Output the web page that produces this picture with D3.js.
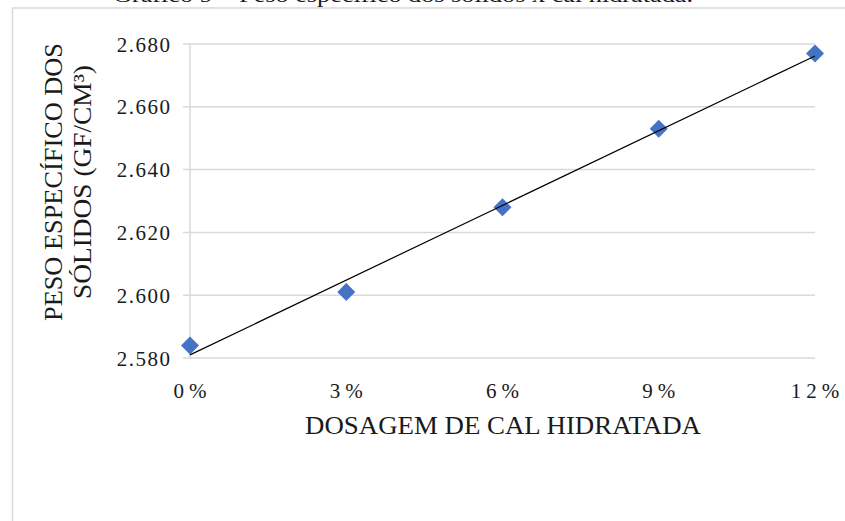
<!DOCTYPE html>
<html>
<head>
<meta charset="utf-8">
<script src="https://cdn.jsdelivr.net/npm/d3@7"></script>
<style>
  html, body { margin: 0; padding: 0; background: #fff; }
  svg { display: block; }
  text { font-family: "Liberation Serif", "Times New Roman", serif; fill: #1a1a1a; }
</style>
</head>
<body>
<svg id="chart" width="845" height="521"></svg>
<script>
// Dosagem de cal hidratada (%) e peso específico dos sólidos (gf/cm³)
const dosagem = [0, 3, 6, 9, 12];
const pesoEspecifico = [2.584, 2.601, 2.628, 2.653, 2.677];
const xTicks = [0, 3, 6, 9, 12];
const yTicks = [2.58, 2.60, 2.62, 2.64, 2.66, 2.68];

const titulo = "Gráfico 9 – Peso específico dos sólidos x cal hidratada.";
const tituloX = "DOSAGEM DE CAL HIDRATADA";
const tituloY = ["PESO ESPECÍFICO DOS", "SÓLIDOS (GF/CM³)"];

const svg = d3.select("#chart");

const x = d3.scaleLinear().domain([0, 12]).range([190, 815]);
const y = d3.scaleLinear().domain([2.58, 2.68]).range([358, 44]);

// Figure caption (partly above the page edge)
svg.append("text")
  .attr("x", 113).attr("y", 2)
  .attr("font-size", 22)
  .attr("textLength", 580)
  .attr("lengthAdjust", "spacingAndGlyphs")
  .text(titulo);

// Chart frame
svg.append("rect")
  .attr("x", 12.5).attr("y", 8)
  .attr("width", 900).attr("height", 600)
  .attr("fill", "none")
  .attr("stroke", "#d9d9d9")
  .attr("stroke-width", 1.5);

// Horizontal gridlines
svg.append("g")
  .selectAll("line")
  .data(yTicks)
  .join("line")
  .attr("x1", 183).attr("x2", x(12))
  .attr("y1", d => y(d)).attr("y2", d => y(d))
  .attr("stroke", "#d9d9d9")
  .attr("stroke-width", 1.5);

// Vertical axis line
svg.append("line")
  .attr("x1", x(0)).attr("x2", x(0))
  .attr("y1", y(2.68)).attr("y2", y(2.58))
  .attr("stroke", "#d9d9d9")
  .attr("stroke-width", 1.5);

// Y tick labels
const fmtY = d3.format(".3f");
svg.append("g")
  .selectAll("text")
  .data(yTicks)
  .join("text")
  .attr("x", 171.5)
  .attr("y", d => y(d) + 7.5)
  .attr("text-anchor", "end")
  .attr("font-size", 21)
  .attr("letter-spacing", 1.5)
  .text(d => fmtY(d));

// X tick labels
svg.append("g")
  .selectAll("text")
  .data(xTicks)
  .join("text")
  .attr("x", d => x(d) + 2.5)
  .attr("y", 398)
  .attr("text-anchor", "middle")
  .attr("font-size", 21)
  .attr("letter-spacing", 5)
  .text(d => d + "%");

// Axis titles
svg.append("text")
  .attr("x", 503).attr("y", 434)
  .attr("text-anchor", "middle")
  .attr("font-size", 25)
  .attr("textLength", 396)
  .attr("lengthAdjust", "spacingAndGlyphs")
  .text(tituloX);

const yTitleLens = [278, 234];
const yTitleBase = [62, 91];
tituloY.forEach((t, i) => {
  svg.append("text")
    .attr("transform", `translate(${yTitleBase[i]},182) rotate(-90)`)
    .attr("text-anchor", "middle")
    .attr("font-size", 25)
    .attr("textLength", yTitleLens[i])
    .attr("lengthAdjust", "spacingAndGlyphs")
    .text(t);
});

// Linear trendline (least squares)
const n = dosagem.length;
const mx = d3.mean(dosagem), my = d3.mean(pesoEspecifico);
let sxy = 0, sxx = 0;
for (let i = 0; i < n; i++) {
  sxy += (dosagem[i] - mx) * (pesoEspecifico[i] - my);
  sxx += (dosagem[i] - mx) ** 2;
}
const slope = sxy / sxx;
const intercept = my - slope * mx;

// Markers
const pts = dosagem.map((d, i) => ({ x: d, y: pesoEspecifico[i] }));
svg.append("g")
  .selectAll("path")
  .data(pts)
  .join("path")
  .attr("d", d3.symbol(d3.symbolSquare, 162))
  .attr("transform", d => `translate(${x(d.x)},${y(d.y)}) rotate(45)`)
  .attr("fill", "#4472c4");

svg.append("line")
  .attr("x1", x(0)).attr("y1", y(intercept))
  .attr("x2", x(12)).attr("y2", y(intercept + slope * 12))
  .attr("stroke", "#000")
  .attr("stroke-width", 1.2);
</script>
</body>
</html>
